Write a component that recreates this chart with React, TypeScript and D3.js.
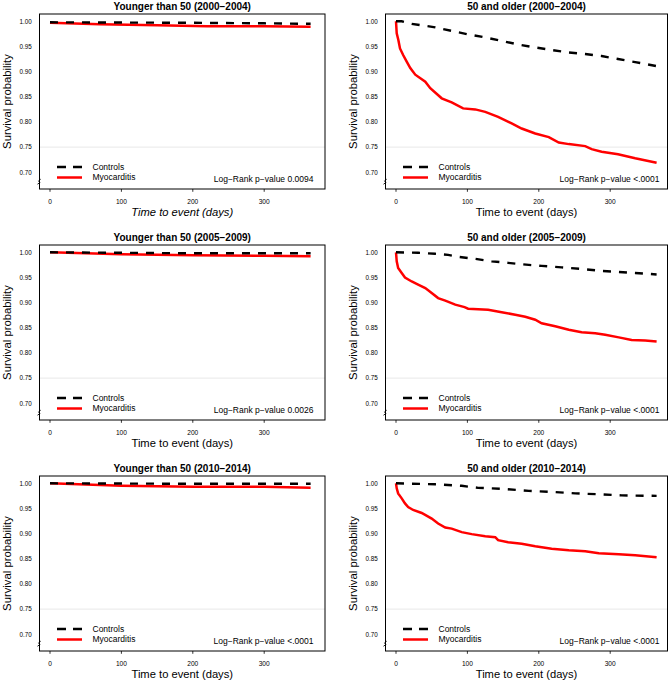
import React from "react";
import * as d3 from "d3";

// ---------- data (day, survival probability) ----------
const ctrlYoung0004: [number, number][] = [[0, 0.998], [100, 0.9975], [200, 0.997], [300, 0.996], [365, 0.995]];
const myoYoung0004: [number, number][] = [[0, 0.997], [70, 0.994], [150, 0.992], [220, 0.990], [300, 0.990], [365, 0.989]];

const ctrlOld0004: [number, number][] = [
  [0, 1.0], [8, 1.0], [22, 0.995], [55, 0.988], [78, 0.981], [101, 0.974], [125, 0.968], [148, 0.961],
  [171, 0.954], [195, 0.948], [218, 0.943], [242, 0.938], [265, 0.935], [288, 0.931], [311, 0.925],
  [335, 0.919], [365, 0.911]];
const myoOld0004: [number, number][] = [
  [0, 1.0], [1, 0.976], [3.3, 0.963], [5.6, 0.946], [10, 0.933], [15, 0.92], [20, 0.907], [27, 0.894],
  [41, 0.88], [48, 0.867], [64, 0.847], [78, 0.839], [94, 0.827], [111, 0.825], [125, 0.82], [143, 0.81],
  [162, 0.797], [176, 0.787], [195, 0.777], [214, 0.77], [228, 0.759], [242, 0.756], [265, 0.752],
  [274, 0.746], [288, 0.741], [311, 0.736], [335, 0.728], [365, 0.719]];

const ctrlYoung0509: [number, number][] = [[0, 1.0], [100, 0.999], [200, 0.998], [300, 0.998], [365, 0.998]];
const myoYoung0509: [number, number][] = [[0, 1.0], [50, 0.998], [100, 0.996], [200, 0.994], [300, 0.993], [365, 0.992]];

const ctrlOld0509: [number, number][] = [
  [0, 1.0], [31, 0.999], [55, 0.997], [73, 0.995], [87, 0.991], [111, 0.987], [134, 0.982], [157, 0.979],
  [186, 0.975], [204, 0.973], [232, 0.97], [260, 0.967], [288, 0.963], [312, 0.961], [335, 0.959], [365, 0.956]];
const myoOld0509: [number, number][] = [
  [0, 1.0], [1, 0.982], [3, 0.969], [8, 0.959], [12.6, 0.95], [22, 0.942], [31, 0.936], [41, 0.929],
  [50, 0.919], [59, 0.909], [69, 0.904], [83, 0.896], [96, 0.891], [101, 0.888], [129, 0.886], [148, 0.881],
  [167, 0.876], [181, 0.872], [195, 0.866], [204, 0.859], [223, 0.853], [242, 0.846], [260, 0.841],
  [279, 0.839], [293, 0.836], [312, 0.831], [330, 0.826], [349, 0.825], [365, 0.823]];

const ctrlYoung1014: [number, number][] = [[0, 1.0], [100, 0.9995], [200, 0.999], [300, 0.999], [365, 0.999]];
const myoYoung1014: [number, number][] = [[0, 1.0], [100, 0.995], [200, 0.993], [300, 0.993], [365, 0.991]];

const ctrlOld1014: [number, number][] = [
  [0, 1.0], [55, 0.998], [92, 0.995], [115, 0.991], [148, 0.989], [186, 0.985], [218, 0.983], [251, 0.98],
  [288, 0.978], [316, 0.976], [365, 0.975]];
const myoOld1014: [number, number][] = [
  [0, 1.0], [1, 0.99], [3, 0.98], [8, 0.97], [12.6, 0.96], [17, 0.953], [24, 0.947], [36, 0.941], [50, 0.93],
  [59, 0.92], [69, 0.912], [78, 0.91], [92, 0.903], [106, 0.899], [125, 0.895], [139, 0.893], [143, 0.887],
  [157, 0.883], [176, 0.88], [195, 0.875], [218, 0.87], [242, 0.867], [265, 0.865], [284, 0.861],
  [312, 0.859], [335, 0.857], [365, 0.853]];

const yTicks = [0.7, 0.75, 0.8, 0.85, 0.9, 0.95, 1.0];
const xTicks = [0, 100, 200, 300];
const seriesNames = ["Controls", "Myocarditis"];

const panels = [
  { title: "Younger than 50 (2000\u22122004)", ctrl: ctrlYoung0004, myo: myoYoung0004, p: "0.0094", row: 0, col: 0, italic: true },
  { title: "50 and older (2000\u22122004)", ctrl: ctrlOld0004, myo: myoOld0004, p: "<.0001", row: 0, col: 1, italic: false },
  { title: "Younger than 50 (2005\u22122009)", ctrl: ctrlYoung0509, myo: myoYoung0509, p: "0.0026", row: 1, col: 0, italic: false },
  { title: "50 and older (2005\u22122009)", ctrl: ctrlOld0509, myo: myoOld0509, p: "<.0001", row: 1, col: 1, italic: false },
  { title: "Younger than 50 (2010\u22122014)", ctrl: ctrlYoung1014, myo: myoYoung1014, p: "<.0001", row: 2, col: 0, italic: false },
  { title: "50 and older (2010\u22122014)", ctrl: ctrlOld1014, myo: myoOld1014, p: "<.0001", row: 2, col: 1, italic: false },
];

const FONT = "'Liberation Sans', Arial, Helvetica, sans-serif";
const colBox = [
  { left: 39.5, right: 325 },
  { left: 385.5, right: 667.5 },
];
const ROW_H = 231;

function Panel({ cfg }: { cfg: (typeof panels)[number] }) {
  const oy = cfg.row * ROW_H;
  const box = colBox[cfg.col];
  const x0 = box.left + 10.5;
  const x = d3.scaleLinear().domain([0, 300]).range([x0, x0 + 214.2]);
  const y = d3.scaleLinear().domain([0.7, 1.0]).range([oy + 172.3, oy + 21.3]);
  const top = oy + 14;
  const bottom = oy + 189;
  const cx = (box.left + box.right) / 2;
  const line = d3
    .line<[number, number]>()
    .x((d) => x(d[0]))
    .y((d) => y(d[1]))
    .curve(d3.curveLinear);
  const by = oy + 181.7;
  return (
    <g>
      <text x={cx} y={oy + 9.5} textAnchor="middle" fontFamily={FONT} fontWeight="bold" fontSize={10}>
        {cfg.title}
      </text>
      {/* reference line at 0.75 */}
      <line x1={box.left} x2={box.right} y1={y(0.75)} y2={y(0.75)} stroke="#d8d8d8" strokeWidth={0.6} />
      {/* curves */}
      <path d={line(cfg.myo) || ""} fill="none" stroke="#ff0000" strokeWidth={2.5} />
      <path d={line(cfg.ctrl) || ""} fill="none" stroke="#000" strokeWidth={2.4} strokeDasharray="8 8" />
      {/* box */}
      <rect x={box.left} y={top} width={box.right - box.left} height={bottom - top} fill="none" stroke="#000" strokeWidth={1} />
      {/* axis break */}
      <path
        d={`M${box.left - 2},${by + 2.5} L${box.left + 0.5},${by + 0.8} L${box.left - 1},${by - 0.8} L${box.left + 1.2},${by - 2.5}`}
        fill="none"
        stroke="#000"
        strokeWidth={0.9}
      />
      {/* y tick labels */}
      {yTicks.map((t) => (
        <text key={t} x={box.left - 7.7} y={y(t)} dy="0.35em" textAnchor="end" fontFamily={FONT} fontSize={6.3}>
          {d3.format(".2f")(t)}
        </text>
      ))}
      {/* x ticks */}
      {xTicks.map((t) => (
        <g key={t}>
          <line x1={x(t)} x2={x(t)} y1={bottom} y2={bottom + 2.8} stroke="#000" strokeWidth={0.8} />
          <text x={x(t)} y={oy + 202} dy="0.35em" textAnchor="middle" fontFamily={FONT} fontSize={6.6}>
            {t}
          </text>
        </g>
      ))}
      {/* axis titles */}
      <text
        x={cx}
        y={oy + 216}
        textAnchor="middle"
        fontFamily={FONT}
        fontSize={11.2}
        fontStyle={cfg.italic ? "italic" : "normal"}
      >
        Time to event (days)
      </text>
      <text
        transform={`translate(${box.left - 28.5},${oy + 101.5}) rotate(-90)`}
        textAnchor="middle"
        fontFamily={FONT}
        fontSize={11.3}
      >
        Survival probability
      </text>
      {/* legend */}
      <line x1={x(0) + 7} x2={x(0) + 32} y1={oy + 167} y2={oy + 167} stroke="#000" strokeWidth={2.4} strokeDasharray="9 7" />
      <line x1={x(0) + 7} x2={x(0) + 32} y1={oy + 177.5} y2={oy + 177.5} stroke="#ff0000" strokeWidth={2.5} />
      <text x={x(0) + 42.5} y={oy + 167} dy="0.35em" fontFamily={FONT} fontSize={8.5}>
        {seriesNames[0]}
      </text>
      <text x={x(0) + 42.5} y={oy + 177.5} dy="0.35em" fontFamily={FONT} fontSize={8.5}>
        {seriesNames[1]}
      </text>
      <text x={x(369)} y={oy + 182.4} textAnchor="end" fontFamily={FONT} fontSize={8.5}>
        {`Log\u2212Rank p\u2212value ${cfg.p}`}
      </text>
    </g>
  );
}

export default function App() {
  return (
    <div>
      <style>{`body{margin:0;}`}</style>
      <svg width={669} height={680} style={{ display: "block", background: "#fff" }}>
        <rect width={669} height={680} fill="#fff" />
        {panels.map((p, i) => (
          <Panel key={i} cfg={p} />
        ))}
      </svg>
    </div>
  );
}
